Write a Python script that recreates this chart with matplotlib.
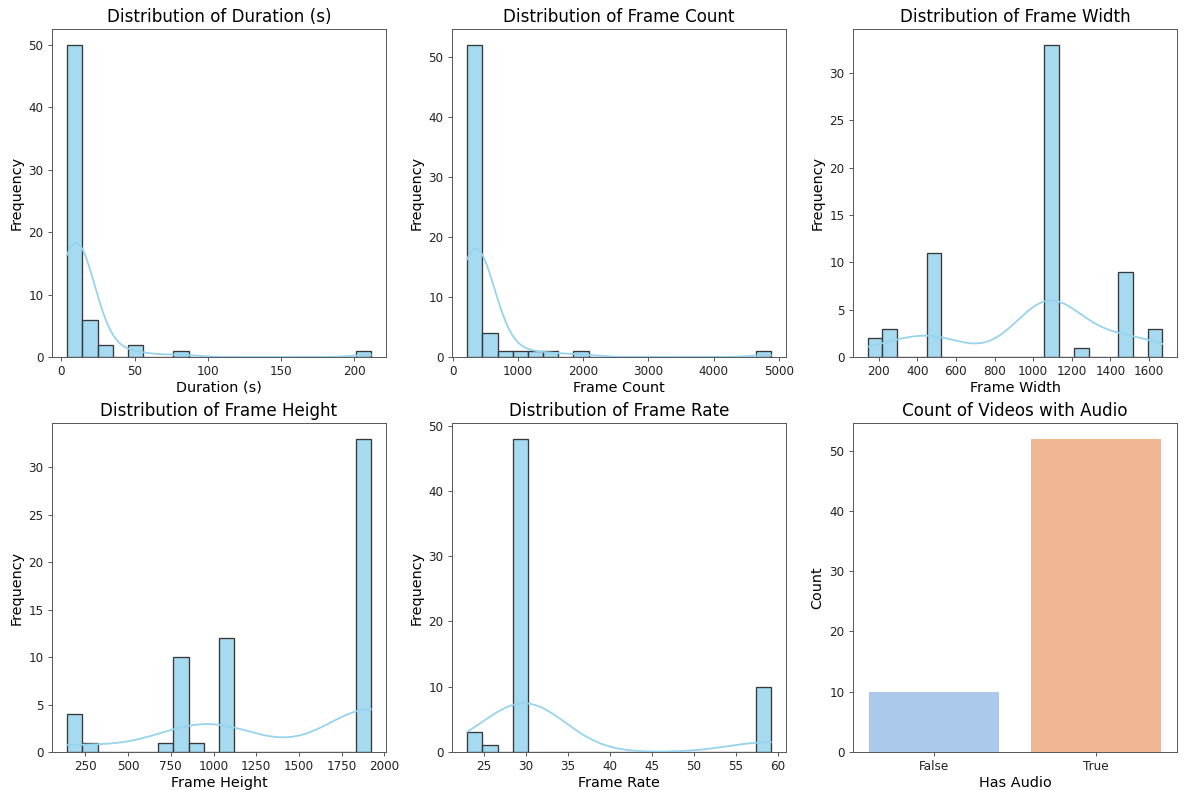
import numpy as np
import matplotlib
matplotlib.use("Agg")
import matplotlib.pyplot as plt
import seaborn as sns

# values: (value, how many videos)
duration_values = [3.9, 5, 6, 7, 8, 9, 10, 11, 12, 13, 15, 17, 19, 21, 23, 28, 32, 48, 52, 80, 211.4]
duration_counts = [1, 3, 5, 6, 7, 7, 7, 6, 4, 4, 2, 1, 1, 1, 1, 1, 1, 1, 1, 1, 1]

frame_count_values = [219, 240, 270, 300, 330, 360, 390, 420, 445, 480, 540, 600, 660,
                      800, 1000, 1250, 1500, 1950, 4878]
frame_count_counts = [1, 3, 6, 10, 10, 9, 6, 4, 3, 1, 1, 1, 1, 1, 1, 1, 1, 1, 1]

width_values = [144, 256, 480, 1080, 1280, 1472, 1668]
width_counts = [2, 3, 11, 33, 1, 9, 3]

height_values = [144, 256, 720, 848, 900, 1080, 1920]
height_counts = [4, 1, 1, 10, 1, 12, 33]

fps_values = [23.0, 23.98, 24.0, 25.0, 29.97, 30.0, 58.5, 59.0, 59.2]
fps_counts = [1, 1, 1, 1, 20, 28, 2, 4, 4]

audio_labels = ["False", "True"]
audio_counts = [10, 52]

hists = [
    ("Duration (s)", duration_values, duration_counts),
    ("Frame Count", frame_count_values, frame_count_counts),
    ("Frame Width", width_values, width_counts),
    ("Frame Height", height_values, height_counts),
    ("Frame Rate", fps_values, fps_counts),
]

DPI = 86.4
fig = plt.figure(figsize=(1186 / DPI, 790 / DPI), dpi=DPI)

W, H = 1186, 790
cols = [(52, 334), (452, 334), (853, 324)]
rows = [(29, 357), (423, 752)]
axes = []
for top, bot in rows:
    for left, w in cols:
        axes.append(fig.add_axes([left / W, (H - bot) / H, w / W, (bot - top) / H]))

for ax, (name, vals, cnts) in zip(axes, hists):
    data = np.repeat(vals, cnts)
    sns.histplot(data, bins=20, kde=True, color="skyblue", ax=ax)
    for p in ax.patches:
        p.set_facecolor((135/255, 206/255, 235/255, 0.75))
        p.set_edgecolor((0.22, 0.22, 0.22))
        p.set_linewidth(1.1)
    ax.lines[0].set_color("#96d3ec")
    ax.set_title(f"Distribution of {name}", fontsize=14)
    ax.set_xlabel(name, fontsize=12, labelpad=2)
    ax.set_ylabel("Frequency", fontsize=12)

ax = axes[5]
sns.barplot(x=audio_labels, y=audio_counts, hue=audio_labels, palette="pastel",
            legend=False, ax=ax)
ax.set_title("Count of Videos with Audio", fontsize=14)
ax.set_xlabel("Has Audio", fontsize=12, labelpad=2)
ax.set_ylabel("Count", fontsize=12)

for a in axes:
    for s in a.spines.values():
        s.set_color("#555555")
    a.tick_params(color="#555555", labelcolor="#222222")

fig.savefig("out.png", dpi=DPI)
